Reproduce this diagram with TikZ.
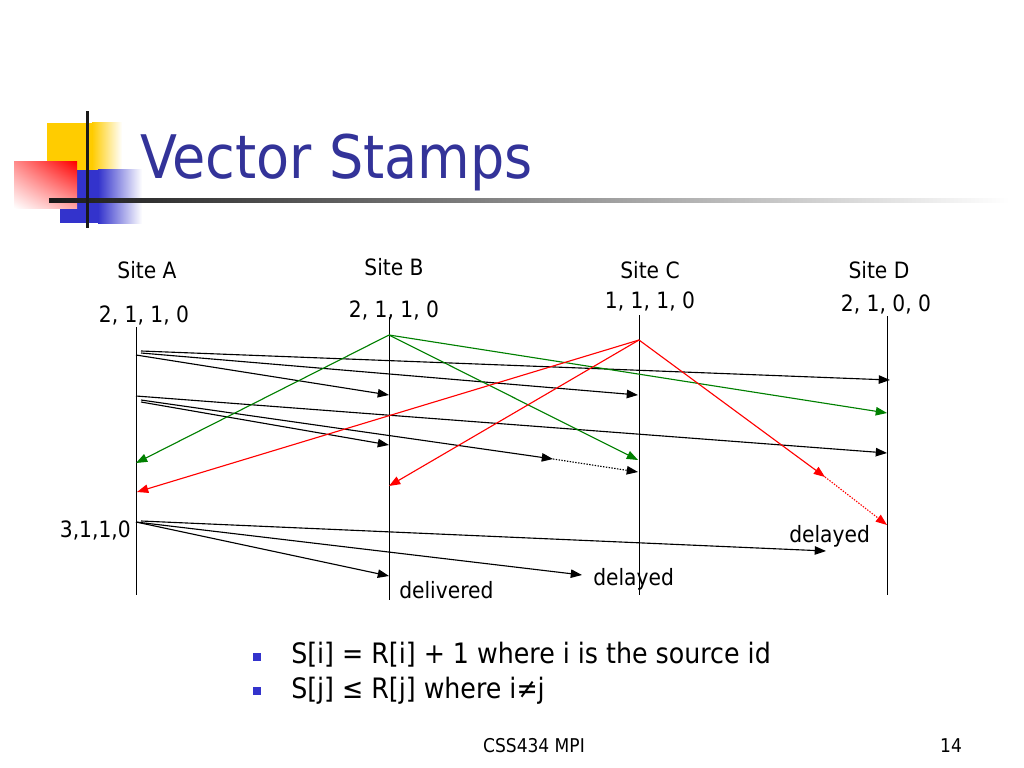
\documentclass[tikz,border=0pt]{standalone}
\usepackage{fontspec}
\setmainfont{DejaVu Sans Condensed}
\usetikzlibrary{arrows.meta,positioning,shadings}

\definecolor{titleblue}{RGB}{51,51,153}
\definecolor{bulletblue}{RGB}{51,51,204}
\definecolor{logoyellow}{RGB}{255,204,0}
\definecolor{logoblue}{RGB}{51,51,204}
\definecolor{msggreen}{RGB}{0,128,0}
\definecolor{msgred}{RGB}{255,0,0}

\tikzset{
  timeline/.style={line width=0.7pt},
  msg/.style={line width=0.8pt,-{Triangle[length=8pt,width=6pt]}},
  late/.style={msg,dash pattern=on 1pt off 1pt},
  lbl/.style={font=\fontsize{16}{19}\selectfont,inner sep=0pt},
  bulletsq/.style={fill=bulletblue,minimum size=5.5pt,inner sep=0pt}
}

\begin{document}
\begin{tikzpicture}[x=0.025cm,y=-0.025cm]
        \useasboundingbox[fill=white] (0,0) rectangle (1024,768);

        % Logo
        \fill[logoyellow] (47,123) rectangle (92,170);
        \shade[left color=logoyellow,right color=white] (92,123) rectangle (122,170);
        \fill[logoblue] (60,170) rectangle (98,223);
        \shade[left color=logoblue,right color=white] (98,170) rectangle (142,223);
        \shade[upper right=msgred,upper left=msgred!45,lower right=msgred!35,lower left=white] (14,162) rectangle (77,208);
        \shade[left color=black!90,right color=white] (49,198) rectangle (1010,202);
        \fill[black!90] (85.5,111) rectangle (88.5,228);

        % Title
        \node[anchor=base west,inner sep=0pt,text=titleblue,font=\fontsize{42.7}{50}\selectfont] (title) at (140,178) {Vector Stamps};

        % Site labels
        \node[lbl,anchor=base] (siteA) at (147,278) {Site A};
        \node[lbl,anchor=base] (siteB) at (394,275) {Site B};
        \node[lbl,anchor=base] (siteC) at (650,278) {Site C};
        \node[lbl,anchor=base] (siteD) at (879,278) {Site D};

        % Vector stamps
        \node[lbl,anchor=base] (stampA) at (144,322) {2, 1, 1, 0};
        \node[lbl,anchor=base] (stampB) at (394,317) {2, 1, 1, 0};
        \node[lbl,anchor=base] (stampC) at (650,308) {1, 1, 1, 0};
        \node[lbl,anchor=base] (stampD) at (886,311) {2, 1, 0, 0};
        \node[lbl,anchor=base east] (stampA2) at (131,537) {3,1,1,0};

        % Time lines
        \coordinate (aTop) at (136,327); \coordinate (aBot) at (136,595);
        \coordinate (bTop) at (389,317); \coordinate (bBot) at (389,600);
        \coordinate (cTop) at (639,315); \coordinate (cBot) at (639,595);
        \coordinate (dTop) at (887,316); \coordinate (dBot) at (887,595);
        \foreach \s in {a,b,c,d}
          \draw[timeline] (\s Top) -- (\s Bot);

        % Send and receive points
        \coordinate (aOut1) at (141,351); \coordinate (dIn1) at (890,380);
        \coordinate (aOut2) at (141,353); \coordinate (cIn1) at (638,395);
        \coordinate (aOut3) at (136,355); \coordinate (bIn1) at (389,395);
        \coordinate (aOut4) at (136,396); \coordinate (dIn2) at (887,453);
        \coordinate (aOut5) at (141,400); \coordinate (cHold) at (553,459); \coordinate (cIn2) at (638,472);
        \coordinate (aOut6) at (141,402); \coordinate (bIn2) at (389,445);
        \coordinate (bOut) at (389,335);
        \coordinate (aIn1) at (136,463); \coordinate (cIn3) at (638,460); \coordinate (dIn3) at (887,413);
        \coordinate (cOut) at (639,340);
        \coordinate (aIn2) at (137,492); \coordinate (bIn3) at (389,486);
        \coordinate (dHold) at (825,477); \coordinate (dIn4) at (887,525);
        \coordinate (aOut7) at (141,521); \coordinate (aOut8) at (136,522);
        \coordinate (dLate) at (826,551); \coordinate (cLate) at (582,575); \coordinate (bIn4) at (389,576);

        % Messages from A
        \draw[msg] (aOut1) -- (dIn1);
        \draw[msg] (aOut2) -- (cIn1);
        \draw[msg] (aOut3) -- (bIn1);
        \draw[msg] (aOut4) -- (dIn2);
        \draw[msg] (aOut5) -- (cHold);
        \draw[late] (cHold) -- (cIn2);
        \draw[msg] (aOut6) -- (bIn2);

        % Messages from B
        \draw[msg,msggreen] (bOut) -- (aIn1);
        \draw[msg,msggreen] (bOut) -- (cIn3);
        \draw[msg,msggreen] (bOut) -- (dIn3);

        % Messages from C
        \draw[msg,msgred] (cOut) -- (aIn2);
        \draw[msg,msgred] (cOut) -- (bIn3);
        \draw[msg,msgred] (cOut) -- (dHold);
        \draw[late,msgred] (dHold) -- (dIn4);

        % Second send from A
        \draw[msg] (aOut7) -- (dLate);
        \draw[msg] (aOut8) -- (cLate);
        \draw[msg] (aOut8) -- (bIn4);

        \node[lbl,anchor=base west] (delivered) at (399,598) {delivered};
        \node[lbl,anchor=base west] (delayedC) at (593,585) {delayed};
        \node[lbl,anchor=base west] (delayedD) at (789,542) {delayed};

        % Bullets
        \node[bulletsq] (bul1) at (257,657) {};
        \node[bulletsq] (bul2) at (257,691) {};
        \node[anchor=base west,inner sep=0pt,font=\fontsize{20}{24}\selectfont] (rule1) at (291,663) {S[i] = R[i] + 1 where i is the source id};
        \node[anchor=base west,inner sep=0pt,font=\fontsize{20}{24}\selectfont] (rule2) at (291,698) {S[j] ≤ R[j] where i≠j};

        % Footer
        \node[anchor=base,inner sep=0pt,font=\fontsize{13.5}{16}\selectfont] (footer) at (534,752) {CSS434 MPI};
        \node[anchor=base,inner sep=0pt,font=\fontsize{13.5}{16}\selectfont] (pageno) at (951,752) {14};
\end{tikzpicture}
\end{document}
